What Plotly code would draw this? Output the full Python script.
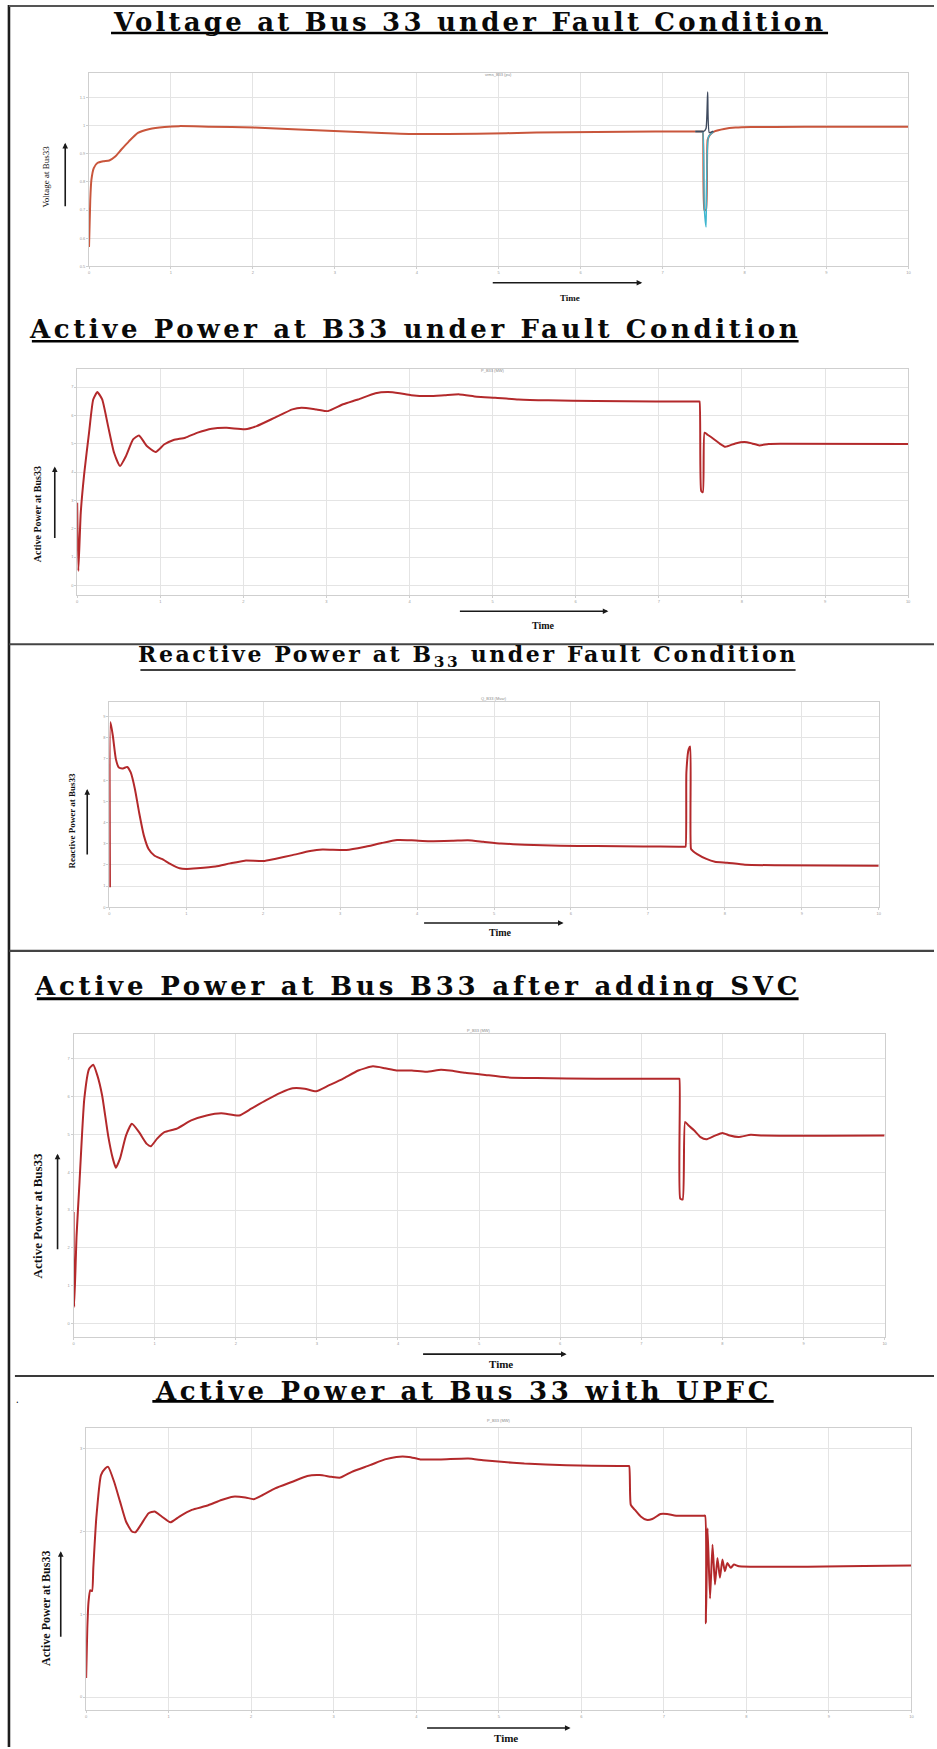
import plotly.graph_objects as go

W, H = 937, 1749

# ---------------- data ----------------
time_ticks = list(range(0, 11))

# Panel 1 : voltage at bus 33 (pu)
t_volt = [0, 0.015, 0.029, 0.058, 0.102, 0.174, 0.247, 0.320, 0.392, 0.487, 0.596, 0.741, 0.922,
          1.10, 1.47, 2.01, 2.56, 2.99, 3.57, 4.01, 4.73, 5.46, 6.19, 6.91, 7.40, 7.48, 7.49, 7.51, 7.53, 7.55,
          7.58, 7.64, 7.75, 7.89, 8.08, 8.37, 9.09, 10.0]
v_volt = [0.569, 0.736, 0.807, 0.849, 0.867, 0.873, 0.876, 0.890, 0.914, 0.944, 0.974, 0.988, 0.995,
          0.998, 0.996, 0.993, 0.986, 0.981, 0.974, 0.970, 0.971, 0.975, 0.977, 0.979, 0.979, 0.979, 0.979,
          0.700, 0.700, 0.950, 0.968, 0.980, 0.988, 0.993, 0.995, 0.995, 0.996, 0.996]
t_volt_b = [7.40, 7.48, 7.49, 7.51, 7.53, 7.56, 7.62]
v_volt_b = [0.979, 0.979, 0.979, 0.700, 0.640, 0.960, 0.978]
t_volt_c = [7.40, 7.49, 7.50, 7.53, 7.55, 7.57, 7.62]
v_volt_c = [0.979, 0.979, 0.979, 0.990, 1.119, 0.975, 0.980]
volt_ticks = [0.5, 0.6, 0.7, 0.8, 0.9, 1.0, 1.1]

# Panel 2 : active power at B33 under fault
t_p_fault = [0, 0.014, 0.043, 0.086, 0.143, 0.193, 0.243, 0.301, 0.372, 0.444, 0.515, 0.587, 0.673,
             0.744, 0.838, 0.945, 1.05, 1.16, 1.30, 1.45, 1.62, 1.80, 2.02, 2.16, 2.38, 2.59, 2.70, 2.88,
             3.02, 3.20, 3.38, 3.59, 3.74, 3.88, 4.02, 4.24, 4.42, 4.60, 4.81, 5.03, 5.31, 5.67, 6.24,
             6.96, 7.40, 7.48, 7.49, 7.51, 7.53, 7.55, 7.58, 7.64, 7.73, 7.80, 7.92, 8.03, 8.12, 8.21,
             8.32, 8.46, 10.0]
p_fault = [2.92, 0.51, 2.56, 3.98, 5.39, 6.56, 6.82, 6.56, 5.62, 4.68, 4.21, 4.56, 5.15,
           5.29, 4.92, 4.71, 4.98, 5.13, 5.21, 5.39, 5.53, 5.56, 5.51, 5.62, 5.92, 6.21, 6.27, 6.21,
           6.15, 6.39, 6.56, 6.78, 6.82, 6.78, 6.71, 6.68, 6.71, 6.74, 6.66, 6.62, 6.56, 6.53, 6.51,
           6.49, 6.49, 6.49, 6.49, 3.33, 3.29, 5.39, 5.33, 5.21, 5.01, 4.89, 5.01, 5.06, 5.01, 4.94,
           4.99, 5.00, 4.99]
p_ticks = [0, 1, 2, 3, 4, 5, 6, 7]

# Panel 3 : reactive power at B33 under fault
t_q_fault = [0.008, 0.015, 0.046, 0.085, 0.124, 0.178, 0.232, 0.278, 0.333, 0.387, 0.449, 0.510, 0.588,
             0.681, 0.797, 0.913, 1.005, 1.14, 1.38, 1.57, 1.76, 2.00, 2.15, 2.38, 2.61, 2.77, 3.08, 3.31,
             3.54, 3.74, 3.93, 4.16, 4.47, 4.66, 4.86, 5.09, 5.40, 5.86, 6.33, 6.94, 7.40, 7.48, 7.49,
             7.50, 7.53, 7.55, 7.56, 7.58, 7.64, 7.76, 7.87, 8.03, 8.26, 8.65, 10.0]
q_fault = [0.94, 8.74, 8.08, 6.99, 6.59, 6.55, 6.62, 6.36, 5.57, 4.47, 3.38, 2.75, 2.43,
           2.28, 2.04, 1.84, 1.81, 1.84, 1.92, 2.07, 2.20, 2.18, 2.28, 2.46, 2.65, 2.72, 2.70, 2.84,
           3.03, 3.17, 3.16, 3.12, 3.14, 3.16, 3.09, 3.01, 2.95, 2.90, 2.89, 2.87, 2.86, 2.86, 2.86,
           6.36, 7.46, 7.58, 2.75, 2.67, 2.51, 2.28, 2.15, 2.10, 2.01, 1.98, 1.96]
q_ticks = [0, 1, 2, 3, 4, 5, 6, 7, 8, 9]

# Panel 4 : active power with SVC
t_p_svc = [0, 0.007, 0.037, 0.073, 0.132, 0.191, 0.242, 0.293, 0.352, 0.426, 0.484, 0.521, 0.572,
           0.646, 0.719, 0.807, 0.902, 0.954, 1.03, 1.12, 1.27, 1.45, 1.64, 1.82, 2.04, 2.19, 2.37,
           2.55, 2.70, 2.85, 2.99, 3.14, 3.32, 3.51, 3.69, 3.84, 3.98, 4.17, 4.35, 4.53, 4.64, 4.83,
           5.05, 5.34, 5.71, 6.44, 7.38, 7.46, 7.47, 7.48, 7.51, 7.54, 7.58, 7.65, 7.73, 7.80, 7.91,
           8.00, 8.09, 8.20, 8.35, 8.50, 10.0]
p_svc = [2.95, 0.44, 2.33, 3.74, 5.94, 6.73, 6.84, 6.56, 6.03, 4.97, 4.36, 4.12, 4.36,
         4.97, 5.28, 5.06, 4.75, 4.69, 4.89, 5.06, 5.15, 5.37, 5.50, 5.56, 5.50, 5.68, 5.90,
         6.10, 6.22, 6.21, 6.14, 6.29, 6.47, 6.69, 6.80, 6.75, 6.69, 6.69, 6.66, 6.71, 6.69, 6.63,
         6.58, 6.51, 6.49, 6.47, 6.47, 6.47, 6.47, 3.30, 3.28, 5.33, 5.24, 5.11, 4.93, 4.87, 4.97,
         5.04, 4.97, 4.93, 4.99, 4.97, 4.97]

# Panel 5 : active power with UPFC
t_p_upfc = [0, 0.014, 0.029, 0.050, 0.072, 0.087, 0.123, 0.180, 0.231, 0.267, 0.339, 0.411, 0.483,
            0.555, 0.598, 0.663, 0.757, 0.829, 0.916, 1.02, 1.13, 1.28, 1.46, 1.64, 1.78, 1.93, 2.03,
            2.14, 2.29, 2.50, 2.68, 2.83, 2.97, 3.08, 3.22, 3.44, 3.62, 3.76, 3.91, 4.05, 4.30, 4.63,
            4.81, 5.03, 5.31, 5.82, 6.45, 6.56, 6.58, 6.60, 6.65, 6.72, 6.79, 6.86, 6.96, 7.04, 7.15,
            7.40, 7.48, 7.50, 7.51, 7.53, 7.56, 7.59, 7.62, 7.65, 7.68, 7.71, 7.74, 7.77, 7.81, 7.85,
            7.91, 10.0]
p_upfc = [0.23, 0.83, 1.15, 1.29, 1.28, 1.56, 2.16, 2.68, 2.76, 2.78, 2.60, 2.36, 2.12,
          2.00, 1.99, 2.08, 2.22, 2.24, 2.18, 2.11, 2.18, 2.26, 2.31, 2.38, 2.42, 2.41, 2.39,
          2.44, 2.52, 2.60, 2.67, 2.68, 2.66, 2.65, 2.72, 2.80, 2.87, 2.90, 2.90, 2.87, 2.87, 2.88,
          2.86, 2.84, 2.82, 2.80, 2.79, 2.79, 2.79, 2.32, 2.26, 2.18, 2.14, 2.15, 2.21, 2.21, 2.19,
          2.19, 2.19, 2.19, 0.89, 2.04, 1.19, 1.84, 1.36, 1.68, 1.44, 1.66, 1.52, 1.62, 1.56, 1.60,
          1.58, 1.59]
p_upfc_ticks = [0, 1, 2, 3]

# ---------------- layout helpers ----------------
def fx(x):
    return x / W


def fy(y):
    return 1 - y / H


panels = [
    # (xl, xr, yt, yb, yrange, yticks, tiny title)
    (88.4, 911.3, 72.7, 266.7, [0.5, 1.188], volt_ticks, "vrms_B33 (pu)"),
    (76.5, 911.0, 369.3, 595.7, [-0.34, 7.64], p_ticks, "P_B33 (MW)"),
    (108.8, 881.5, 702.7, 908.3, [0, 9.69], q_ticks, "Q_B33 (Mvar)"),
    (72.9, 887.4, 1035.0, 1338.3, [-0.35, 7.66], p_ticks, "P_B33 (MW)"),
    (85.5, 914.3, 1429.3, 1711.7, [-0.153, 3.253], p_upfc_ticks, "P_B33 (MW)"),
]

fig = go.Figure()

RED = "#b3292b"
series = [
    (1, t_volt, v_volt, "#c9563c", 2.0),
    (1, t_volt_b, v_volt_b, "#3fb6cf", 1.4),
    (1, t_volt_c, v_volt_c, "#3e4a5e", 1.4),
    (2, t_p_fault, p_fault, RED, 2.0),
    (3, t_q_fault, q_fault, RED, 2.0),
    (4, t_p_svc, p_svc, RED, 2.0),
    (5, t_p_upfc, p_upfc, RED, 2.0),
]
for idx, tx, ty, col, w in series:
    sfx = "" if idx == 1 else str(idx)
    fig.add_trace(go.Scatter(x=tx, y=ty, mode="lines",
                             line=dict(color=col, width=w, shape="spline", smoothing=0.5),
                             xaxis="x" + sfx, yaxis="y" + sfx, showlegend=False,
                             hoverinfo="skip"))

layout = dict(width=W, height=H, margin=dict(l=0, r=0, t=0, b=0),
              paper_bgcolor="white", plot_bgcolor="white", showlegend=False)

annotations = []
shapes = []

for i, (xl, xr, yt, yb, yr, yt_vals, tiny) in enumerate(panels, start=1):
    sfx = "" if i == 1 else str(i)
    layout["xaxis" + sfx] = dict(
        domain=[fx(xl), fx(xr)], range=[0, 10], anchor="y" + sfx,
        tickvals=time_ticks, showgrid=True, gridcolor="#e4e4e4", gridwidth=1,
        showline=True, mirror=True, linecolor="#cfcfcf", linewidth=1,
        zeroline=False, ticks="outside", ticklen=2, tickcolor="#cfcfcf",
        tickfont=dict(size=4, color="#9a9a9a", family="Liberation Sans"))
    layout["yaxis" + sfx] = dict(
        domain=[fy(yb), fy(yt)], range=yr, anchor="x" + sfx,
        tickvals=yt_vals, showgrid=True, gridcolor="#e4e4e4", gridwidth=1,
        showline=True, mirror=True, linecolor="#cfcfcf", linewidth=1,
        zeroline=False, ticks="outside", ticklen=2, tickcolor="#cfcfcf",
        tickfont=dict(size=4, color="#9a9a9a", family="Liberation Sans"))
    annotations.append(dict(text=tiny, x=fx((xl + xr) / 2), y=fy(yt - 3), xref="paper", yref="paper",
                            showarrow=False, font=dict(size=4, color="#8a8a8a", family="Liberation Sans")))

# ---- panel titles (wide serif, underlined) ----
titles = [
    ("Voltage at Bus 33 under Fault Condition", 470.5, 22, 26, 3.2, 110.5, 830.6, 33, 2.6),
    ("Active Power at B33 under Fault Condition", 416.0, 329, 26, 3.6, 31.0, 801.0, 341.7, 2.4),
    ("Reactive Power at B<sub>33</sub> under Fault Condition", 469.0, 657, 22, 2.6, 140.0, 798.0, 670.7, 1.6),
    ("Active Power at Bus B33 after adding SVC", 418.5, 987, 26, 3.8, 36.0, 801.0, 1000.0, 3.0),
    ("Active Power at Bus 33 with UPFC", 464.0, 1393, 26, 3.7, 152.0, 776.0, 1403.0, 2.6),
]
for txt, cx, cy, size, ls, ux0, ux1, uy, uw in titles:
    annotations.append(dict(
        text='<span style="letter-spacing:%.1fpx">%s</span>' % (ls, txt),
        x=fx(cx), y=fy(cy), xref="paper", yref="paper", xanchor="center", yanchor="middle",
        showarrow=False, font=dict(size=size, color="#0a0a0a", family="DejaVu Serif", weight="bold")))
    shapes.append(dict(type="line", xref="paper", yref="paper", x0=fx(ux0), x1=fx(ux1),
                       y0=fy(uy), y1=fy(uy), line=dict(color="#000000", width=uw)))

# ---- rotated y labels ----
ylabels = [
    ("Voltage at Bus33", 45, 177, 9, "normal"),
    ("Active Power at Bus33", 37, 515, 10, "bold"),
    ("Reactive Power at Bus33", 71.7, 821, 9, "bold"),
    ("Active Power at Bus33", 37, 1217, 13, "bold"),
    ("Active Power at Bus33", 45, 1610, 12, "bold"),
]
for txt, cx, cy, size, wt in ylabels:
    annotations.append(dict(text=txt, x=fx(cx), y=fy(cy), xref="paper", yref="paper",
                            textangle=-90, showarrow=False, xanchor="center", yanchor="middle",
                            font=dict(size=size, color="#111111", family="Liberation Serif", weight=wt)))

# ---- "Time" labels ----
xlabels = [(571, 298, 9), (545, 626, 10), (502, 934, 10), (502, 1366, 11), (507, 1740, 11)]
for cx, cy, size in xlabels:
    annotations.append(dict(text="Time", x=fx(cx), y=fy(cy), xref="paper", yref="paper",
                            showarrow=False, xanchor="center", yanchor="middle",
                            font=dict(size=size, color="#111111", family="Liberation Serif", weight="bold")))

# ---- arrows (head, tail) ----
arrows = [
    ((64.5, 143), (64.5, 208)), ((644, 283), (493, 283)),
    ((54, 467), (54, 540)), ((610, 612), (460, 612)),
    ((86.6, 790), (86.6, 857)), ((565, 924), (424, 924)),
    ((56.8, 1155), (56.8, 1252)), ((568, 1355.7), (423, 1355.7)),
    ((60, 1553), (60, 1640)), ((572, 1730), (427, 1730)),
]
for (hx, hy), (tx_, ty_) in arrows:
    annotations.append(dict(text="", x=fx(hx), y=fy(hy), xref="paper", yref="paper",
                            showarrow=True, ax=tx_ - hx, ay=ty_ - hy, axref="pixel", ayref="pixel",
                            arrowhead=2, arrowsize=0.7, arrowwidth=1.6, arrowcolor="#1a1a1a",
                            standoff=0, startstandoff=0))

annotations.append(dict(text=".", x=fx(13), y=fy(1410), xref="paper", yref="paper", showarrow=False,
                        font=dict(size=10, color="#000")))

# ---- page frame and separators ----
frame = [
    (8, 5, 8, 1749, "#1e1e1e", 2.6),
    (8, 6, 937, 6, "#555555", 2.2),
    (8, 645, 937, 645, "#444444", 2.2),
    (8, 952, 937, 952, "#444444", 2.2),
    (14, 1377.7, 937, 1377.7, "#3a3a3a", 2.0),
]
for x0, y0, x1, y1, col, w in frame:
    shapes.append(dict(type="line", xref="paper", yref="paper", x0=fx(x0), x1=fx(x1),
                       y0=fy(y0), y1=fy(y1), line=dict(color=col, width=w)))

layout["annotations"] = annotations
layout["shapes"] = shapes
fig.update_layout(**layout)
fig.write_html("out.html")
